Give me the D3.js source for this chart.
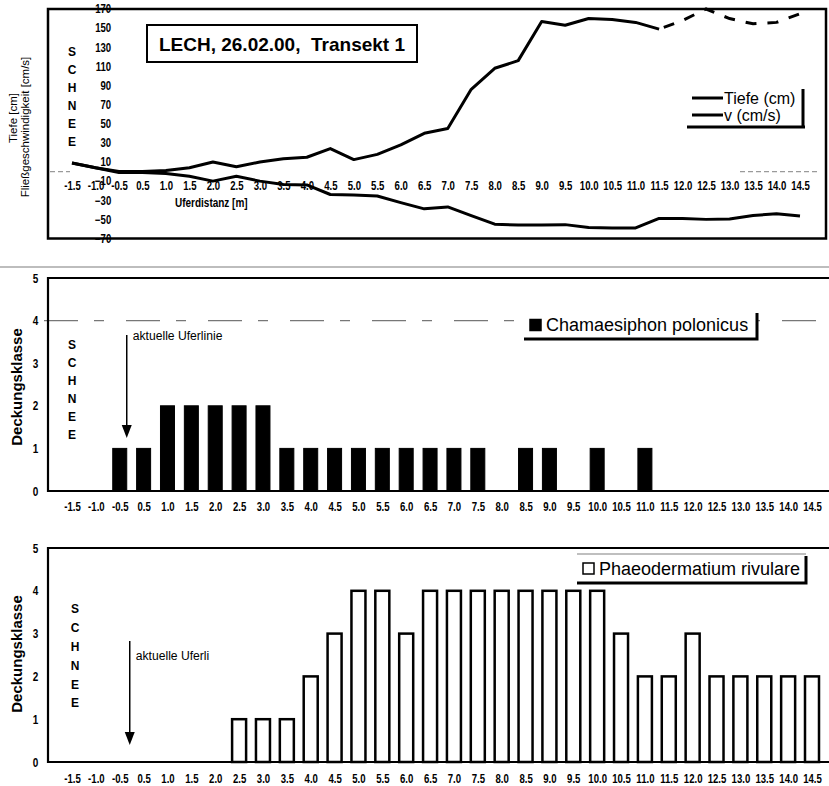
<!DOCTYPE html>
<html>
<head>
<meta charset="utf-8">
<script src="https://cdn.jsdelivr.net/npm/d3@7"></script>
<style>
  body { margin: 0; background: #fff; }
  svg { display: block; }
</style>
</head>
<body>
<script>
// Distance from the bank (m) along the transect
const categories = ["-1.5","-1.0","-0.5","0.5","1.0","1.5","2.0","2.5","3.0","3.5","4.0","4.5",
  "5.0","5.5","6.0","6.5","7.0","7.5","8.0","8.5","9.0","9.5","10.0","10.5","11.0","11.5",
  "12.0","12.5","13.0","13.5","14.0","14.5"];

// Flow velocity (cm/s); values from 11.5 m on are estimated (dashed)
const velocity = [9, 4, 0, 0, 1, 4, 10, 5, 10, 13.5, 15, 24, 12.5, 18, 28, 40, 45, 86, 108, 116,
  157, 153, 160, 159, 156, 149, 158, 170, 160, 154.5, 156, 165];
const velocityEstimatedFrom = "11.5";

// Water depth (cm), plotted downwards
const depth = [9, 4, -1, -1, -2, -5, -10, -5, -10, -13.5, -14, -24, -24.5, -25.5, -32.5, -39, -37,
  -46, -55, -56, -56, -55.5, -58.5, -59, -59, -49, -49, -50, -49.5, -46, -44, -46.5];

const velocityTicks = [-70, -50, -30, -10, 10, 30, 50, 70, 90, 110, 130, 150, 170];

// Cover classes (Deckungsklasse) per distance
const chamaesiphon = [0, 0, 1, 1, 2, 2, 2, 2, 2, 1, 1, 1, 1, 1, 1, 1, 1, 1, 0, 1, 1, 0, 1, 0, 1,
  0, 0, 0, 0, 0, 0, 0];
const phaeodermatium = [0, 0, 0, 0, 0, 0, 0, 1, 1, 1, 2, 3, 4, 4, 3, 4, 4, 4, 4, 4, 4, 4, 4, 3, 2,
  2, 3, 2, 2, 2, 2, 2];
const coverTicks = [0, 1, 2, 3, 4, 5];

const W = 829, H = 786;
const svg = d3.select("body").append("svg").attr("width", W).attr("height", H);

const SANS = "'Liberation Sans',Arial,Helvetica,sans-serif";
const SQUEEZE = 0.8; // condensed look of the axis lettering

function styleTicks(g, size) {
  g.select(".domain").remove();
  g.selectAll("text")
    .attr("font-family", SANS)
    .attr("font-weight", "bold")
    .attr("font-size", size)
    .attr("fill", "#000")
    .attr("transform", `scale(${SQUEEZE},1)`);
}

function schnee(x, y0, step) {
  const t = svg.append("text")
    .attr("font-family", SANS).attr("font-weight", "bold").attr("font-size", 12)
    .attr("text-anchor", "middle");
  "SCHNEE".split("").forEach((c, i) => {
    t.append("tspan").attr("x", x).attr("y", y0 + i * step).attr("dy", "0.36em").text(c);
  });
}

// ---------------- Top panel: velocity and depth profile ----------------
const xTop = d3.scalePoint().domain(categories).range([72, 800]);
const yTop = d3.scaleLinear().domain([-70, 170]).range([238.5, 9]);

// faint zero line at the edges of the panel
svg.append("g").attr("stroke", "#9a9a9a").attr("stroke-width", 1.2).attr("stroke-dasharray", "5,3")
  .selectAll("line").data([[50, 70], [740, 818]]).join("line")
  .attr("x1", d => d[0]).attr("x2", d => d[1])
  .attr("y1", yTop(0)).attr("y2", yTop(0));

svg.append("rect").attr("x", 48).attr("y", yTop(170)).attr("width", 778)
  .attr("height", yTop(-70) - yTop(170))
  .attr("fill", "none").attr("stroke", "#000").attr("stroke-width", 2.5);

svg.append("g").attr("transform", "translate(112,0)")
  .call(d3.axisLeft(yTop).tickValues(velocityTicks).tickSize(0).tickPadding(1).tickFormat(d3.format("d")))
  .call(g => styleTicks(g, 12));

svg.append("g").attr("transform", `translate(0,${yTop(0)})`)
  .call(d3.axisBottom(xTop).tickSize(0).tickPadding(10))
  .call(g => styleTicks(g, 12));

const lineTop = d3.line().x(d => xTop(d.c)).y(d => yTop(d.v));
const velData = categories.map((c, i) => ({ c, v: velocity[i] }));
const cut = categories.indexOf(velocityEstimatedFrom);
const depData = categories.map((c, i) => ({ c, v: depth[i] }));

svg.append("path").attr("d", lineTop(depData))
  .attr("fill", "none").attr("stroke", "#000").attr("stroke-width", 3).attr("stroke-linejoin", "round");
svg.append("path").attr("d", lineTop(velData.slice(0, cut + 1)))
  .attr("fill", "none").attr("stroke", "#000").attr("stroke-width", 3).attr("stroke-linejoin", "round");
svg.append("path").attr("d", lineTop(velData.slice(cut)))
  .attr("fill", "none").attr("stroke", "#000").attr("stroke-width", 3)
  .attr("stroke-dasharray", "11,11").attr("stroke-dashoffset", -5);

// title box
svg.append("rect").attr("x", 147).attr("y", 25).attr("width", 270).attr("height", 37)
  .attr("fill", "#fff").attr("stroke", "#000").attr("stroke-width", 2);
svg.append("text").attr("x", 282).attr("y", 44).attr("dy", "0.36em")
  .attr("text-anchor", "middle").attr("font-family", SANS).attr("font-weight", "bold")
  .attr("font-size", 19).style("white-space", "pre")
  .text("LECH, 26.02.00,  Transekt 1");

// legend
const legTop = svg.append("g");
legTop.append("path").attr("d", "M687,127H805M803,89V128").attr("stroke", "#000")
  .attr("stroke-width", 3).attr("fill", "none");
[["Tiefe (cm)", 98], ["v (cm/s)", 115]].forEach(([t, y]) => {
  legTop.append("line").attr("x1", 692).attr("x2", 723).attr("y1", y).attr("y2", y)
    .attr("stroke", "#000").attr("stroke-width", 3);
  legTop.append("text").attr("x", 724).attr("y", y).attr("dy", "0.36em")
    .attr("font-family", SANS).attr("font-size", 16).text(t);
});

svg.append("text").attr("transform", `translate(175,202) scale(${SQUEEZE},1)`).attr("dy", "0.36em")
  .attr("font-family", SANS).attr("font-weight", "bold").attr("font-size", 12.5)
  .text("Uferdistanz [m]");

svg.append("text").attr("transform", "translate(13,118) rotate(-90)").attr("dy", "0.36em")
  .attr("text-anchor", "middle").attr("font-family", SANS).attr("font-size", 11.5).text("Tiefe [cm]");
svg.append("text").attr("transform", "translate(25,127) rotate(-90)").attr("dy", "0.36em")
  .attr("text-anchor", "middle").attr("font-family", SANS).attr("font-size", 11.5)
  .text("Fließgeschwindigkeit [cm/s]");

schnee(72, 52, 18);

// separator
svg.append("line").attr("x1", 0).attr("x2", W).attr("y1", 267).attr("y2", 267)
  .attr("stroke", "#bdbdbd").attr("stroke-width", 2);

// ---------------- Bar panels ----------------
const xBar = d3.scalePoint().domain(categories).range([72, 812]);
const barW = 14;

function barPanel(opts) {
  const y = d3.scaleLinear().domain([0, 5]).range([opts.bottom, opts.top]);
  const g = svg.append("g");

  if (opts.grid) {
    g.append("line").attr("x1", 44).attr("x2", W).attr("y1", y(4)).attr("y2", y(4))
      .attr("stroke", "#777").attr("stroke-width", 1.2).attr("stroke-dasharray", "34,16,10,22");
  }

  g.append("g").attr("transform", "translate(48,0)")
    .call(d3.axisLeft(y).tickValues(coverTicks).tickSize(0).tickPadding(12).tickFormat(d3.format("d")))
    .call(a => styleTicks(a, 12.5));
  g.append("g").attr("transform", `translate(0,${opts.bottom})`)
    .call(d3.axisBottom(xBar).tickSize(0).tickPadding(opts.pad))
    .call(a => styleTicks(a, 12));

  const data = categories.map((c, i) => ({ c, v: opts.values[i] })).filter(d => d.v > 0);
  g.selectAll("rect.bar").data(data).join("rect").attr("class", "bar")
    .attr("x", d => xBar(d.c) - barW / 2).attr("width", barW)
    .attr("y", d => y(d.v)).attr("height", d => y(0) - y(d.v))
    .attr("fill", opts.fill).attr("stroke", "#000").attr("stroke-width", opts.stroke);

  // frame: left axis, top border, baseline
  g.append("path").attr("d", `M${W},${opts.top}H48V${opts.bottom}H${W}`)
    .attr("fill", "none").attr("stroke", "#000").attr("stroke-width", 2.2);

  g.append("text").attr("transform", `translate(17,${opts.labelY}) rotate(-90)`).attr("dy", "0.36em")
    .attr("text-anchor", "middle").attr("font-family", SANS).attr("font-weight", "bold")
    .attr("font-size", 15).text("Deckungsklasse");

  // legend
  const L = opts.legend;
  g.append("rect").attr("x", L.x).attr("y", L.y).attr("width", L.w).attr("height", L.h)
    .attr("fill", "#fff").attr("stroke", "none");
  if (L.topLine) {
    g.append("line").attr("x1", L.x).attr("x2", L.x + L.w).attr("y1", L.y).attr("y2", L.y)
      .attr("stroke", "#aaa").attr("stroke-width", 1.5);
  }
  g.append("path").attr("d", `M${L.x},${L.y + L.h}H${L.x + L.w}V${L.y + 2}`)
    .attr("fill", "none").attr("stroke", "#000").attr("stroke-width", 3);
  g.append("rect").attr("x", L.x + 6).attr("y", L.y + L.h / 2 - 5.5).attr("width", 11).attr("height", 11)
    .attr("fill", opts.fill).attr("stroke", "#000").attr("stroke-width", 1.5);
  g.append("text").attr("x", L.x + 22).attr("y", L.y + L.h / 2).attr("dy", "0.36em")
    .attr("font-family", SANS).attr("font-size", 18).text(L.text);

  // current bank line marker
  const ax = xBar("-0.5") + opts.arrowDx;
  g.append("line").attr("x1", ax).attr("x2", ax).attr("y1", opts.arrow[0]).attr("y2", opts.arrow[1] - 10)
    .attr("stroke", "#000").attr("stroke-width", 1.5);
  g.append("path").attr("d", `M${ax - 5},${opts.arrow[1] - 13}L${ax + 5},${opts.arrow[1] - 13}L${ax},${opts.arrow[1]}Z`)
    .attr("fill", "#000");
  g.append("text").attr("transform", `translate(${ax + 6},${opts.noteY}) scale(0.9,1)`).attr("dy", "0.36em")
    .attr("font-family", SANS).attr("font-size", 13.5).text(opts.note);
}

barPanel({
  top: 278, bottom: 491, pad: 11, values: chamaesiphon, fill: "#000", stroke: 1,
  grid: true, labelY: 387,
  legend: { x: 524, y: 311, w: 233, h: 28, text: "Chamaesiphon polonicus", topLine: false },
  arrowDx: 7, arrow: [335, 438], noteY: 335, note: "aktuelle Uferlinie"
});
schnee(72, 345, 18);

barPanel({
  top: 548, bottom: 762, pad: 12, values: phaeodermatium, fill: "#fff", stroke: 2.5,
  grid: false, labelY: 654,
  legend: { x: 577, y: 554, w: 229, h: 29, text: "Phaeodermatium rivulare", topLine: true },
  arrowDx: 10, arrow: [641, 745], noteY: 655, note: "aktuelle Uferli"
});
schnee(75, 609, 18.8);
</script>
</body>
</html>
